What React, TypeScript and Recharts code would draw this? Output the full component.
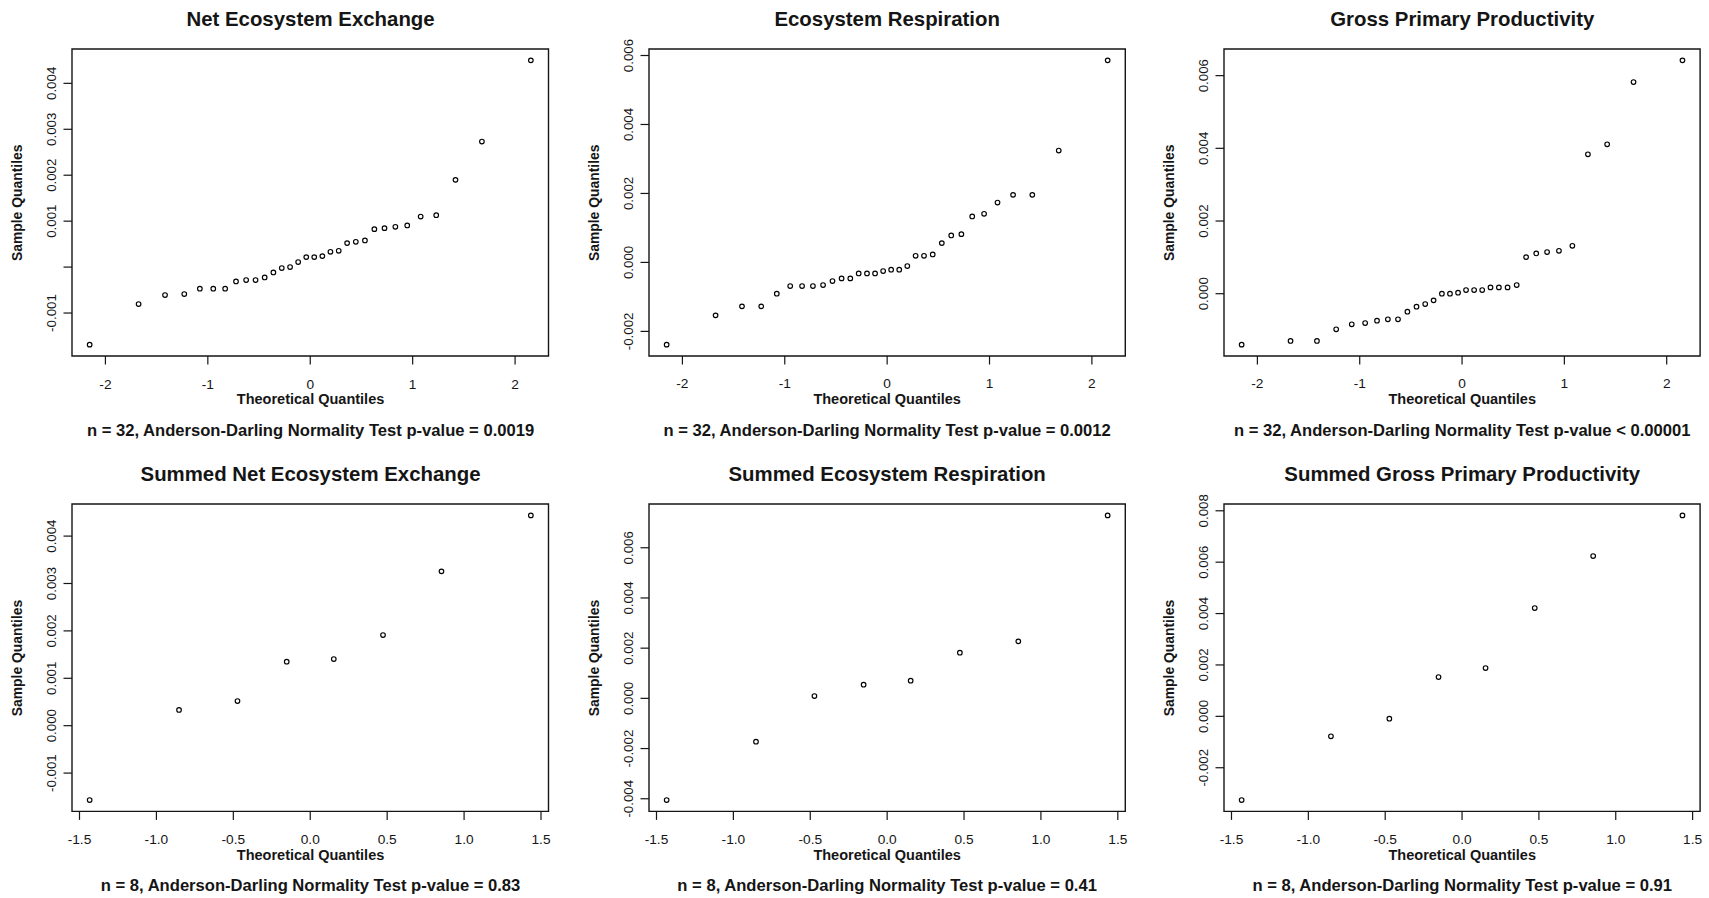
import React from 'react';
import { ScatterChart, Scatter, XAxis, YAxis, ReferenceArea } from 'recharts';

// ---------- data ----------
const theoretical32 = [
  -2.154, -1.676, -1.418, -1.23, -1.078, -0.947, -0.831, -0.725, -0.626, -0.534, -0.445, -0.36, -0.278, -0.197, -0.118, -0.039,
  0.039, 0.118, 0.197, 0.278, 0.36, 0.445, 0.534, 0.626, 0.725, 0.831, 0.947, 1.078, 1.23, 1.418, 1.676, 2.154,
];
const theoretical8 = [-1.434, -0.853, -0.473, -0.153, 0.153, 0.473, 0.853, 1.434];

const neeSample = [
  -0.001688, -0.000804, -0.000609, -0.000587, -0.000471, -0.000471, -0.000471, -0.000312, -0.000283, -0.000283, -0.000225,
  -0.000116, -0.000022, 0.0, 0.000109, 0.000217, 0.000217, 0.000239, 0.000333, 0.000355, 0.000522, 0.000551, 0.00058,
  0.000826, 0.000848, 0.000877, 0.000906, 0.001101, 0.00113, 0.001899, 0.002732, 0.0045,
];
const erSample = [
  -0.002384, -0.001535, -0.001274, -0.001274, -0.000907, -0.000685, -0.000685, -0.000685, -0.000656, -0.000541, -0.000463,
  -0.000463, -0.000319, -0.000319, -0.000319, -0.000251, -0.000212, -0.000212, -0.000106, 0.000193, 0.000193, 0.000232,
  0.00056, 0.000782, 0.00082, 0.001332, 0.001409, 0.001737, 0.001959, 0.001959, 0.003243, 0.005859,
];
const gppSample = [
  -0.001401, -0.0013, -0.0013, -0.00098, -0.000842, -0.000806, -0.000742, -0.000705, -0.000705, -0.000495, -0.000357,
  -0.000284, -0.000183, 0.0, 0.0, 0.000027, 0.000101, 0.000101, 0.000101, 0.000174, 0.000174, 0.000174, 0.000238,
  0.001007, 0.001108, 0.001145, 0.001181, 0.001319, 0.003837, 0.004112, 0.005824, 0.00642,
];
const sumNeeSample = [-0.001568, 0.000331, 0.00052, 0.00135, 0.001406, 0.001913, 0.003256, 0.004437];
const sumErSample = [-0.00405, -0.001726, 0.000093, 0.000544, 0.000704, 0.001819, 0.002271, 0.00729];
const sumGppSample = [-0.003256, -0.000778, -0.000091, 0.00153, 0.001881, 0.004215, 0.006239, 0.007821];

const titles = [
  'Net Ecosystem Exchange',
  'Ecosystem Respiration',
  'Gross Primary Productivity',
  'Summed Net Ecosystem Exchange',
  'Summed Ecosystem Respiration',
  'Summed Gross Primary Productivity',
];
const subtitles = [
  'n = 32, Anderson-Darling Normality Test p-value = 0.0019',
  'n = 32, Anderson-Darling Normality Test p-value = 0.0012',
  'n = 32, Anderson-Darling Normality Test p-value < 0.00001',
  'n = 8, Anderson-Darling Normality Test p-value = 0.83',
  'n = 8, Anderson-Darling Normality Test p-value = 0.41',
  'n = 8, Anderson-Darling Normality Test p-value = 0.91',
];

const xTicksTop = [-2, -1, 0, 1, 2];
const xTickLabelsTop = ['-2', '-1', '0', '1', '2'];
const xTicksBottom = [-1.5, -1, -0.5, 0, 0.5, 1, 1.5];
const xTickLabelsBottom = ['-1.5', '-1.0', '-0.5', '0.0', '0.5', '1.0', '1.5'];

const neeYTicks = [-0.001, 0, 0.001, 0.002, 0.003, 0.004];
const neeYTickLabels = ['-0.001', '', '0.001', '0.002', '0.003', '0.004'];
const erYTicks = [-0.002, 0, 0.002, 0.004, 0.006];
const erYTickLabels = ['-0.002', '0.000', '0.002', '0.004', '0.006'];
const gppYTicks = [0, 0.002, 0.004, 0.006];
const gppYTickLabels = ['0.000', '0.002', '0.004', '0.006'];
const sumNeeYTicks = [-0.001, 0, 0.001, 0.002, 0.003, 0.004];
const sumNeeYTickLabels = ['-0.001', '0.000', '0.001', '0.002', '0.003', '0.004'];
const sumErYTicks = [-0.004, -0.002, 0, 0.002, 0.004, 0.006];
const sumErYTickLabels = ['-0.004', '-0.002', '0.000', '0.002', '0.004', '0.006'];
const sumGppYTicks = [-0.002, 0, 0.002, 0.004, 0.006, 0.008];
const sumGppYTickLabels = ['-0.002', '0.000', '0.002', '0.004', '0.006', '0.008'];

const xLabel = 'Theoretical Quantiles';
const yLabel = 'Sample Quantiles';

// ---------- layout ----------
const FONT = '"Liberation Sans", Arial, Helvetica, sans-serif';
const INK = '#151515';
const colBounds: [number, number][] = [
  [72.3, 548.8],
  [649, 1125.3],
  [1224.2, 1700.3],
];
const rowBounds: [number, number][] = [
  [49.3, 356.3],
  [504.3, 811.7],
];
const TICK = 8.5;

function padDomain(vals: number[]): [number, number] {
  const mn = Math.min(...vals);
  const mx = Math.max(...vals);
  const r = mx - mn;
  return [mn - 0.04 * r, mx + 0.04 * r];
}

function findLabel(value: number, ticks: number[], labels: string[]) {
  let best = 0;
  let bd = Infinity;
  ticks.forEach((t, i) => {
    const d = Math.abs(t - value);
    if (d < bd) {
      bd = d;
      best = i;
    }
  });
  return labels[best];
}

const Ring = (props: any) => {
  const { cx, cy } = props;
  if (cx == null || cy == null) return null;
  return <circle cx={cx} cy={cy} r={2.3} fill="none" stroke="#000" strokeWidth={1.15} />;
};

type PanelDef = {
  col: number;
  row: number;
  xs: number[];
  ys: number[];
  xTicks: number[];
  xLabels: string[];
  yTicks: number[];
  yLabels: string[];
};

const panels: PanelDef[] = [
  { col: 0, row: 0, xs: theoretical32, ys: neeSample, xTicks: xTicksTop, xLabels: xTickLabelsTop, yTicks: neeYTicks, yLabels: neeYTickLabels },
  { col: 1, row: 0, xs: theoretical32, ys: erSample, xTicks: xTicksTop, xLabels: xTickLabelsTop, yTicks: erYTicks, yLabels: erYTickLabels },
  { col: 2, row: 0, xs: theoretical32, ys: gppSample, xTicks: xTicksTop, xLabels: xTickLabelsTop, yTicks: gppYTicks, yLabels: gppYTickLabels },
  { col: 0, row: 1, xs: theoretical8, ys: sumNeeSample, xTicks: xTicksBottom, xLabels: xTickLabelsBottom, yTicks: sumNeeYTicks, yLabels: sumNeeYTickLabels },
  { col: 1, row: 1, xs: theoretical8, ys: sumErSample, xTicks: xTicksBottom, xLabels: xTickLabelsBottom, yTicks: sumErYTicks, yLabels: sumErYTickLabels },
  { col: 2, row: 1, xs: theoretical8, ys: sumGppSample, xTicks: xTicksBottom, xLabels: xTickLabelsBottom, yTicks: sumGppYTicks, yLabels: sumGppYTickLabels },
];

const ML = 60;
const MT = 12;
const MR = 8;
const MB = 40;

function Panel({ p }: { p: PanelDef }) {
  const [L, R] = colBounds[p.col];
  const [T, B] = rowBounds[p.row];
  const pw = R - L;
  const ph = B - T;
  const w = pw + ML + MR;
  const h = ph + MT + MB;
  const data = p.xs.map((x, i) => ({ x, y: p.ys[i] }));
  const xd = padDomain(p.xs);
  const yd = padDomain(p.ys);

  const XTick = (props: any) => {
    const { x, y, payload } = props;
    // y = plot bottom + tick length
    return (
      <text x={x} y={y + 32.5 - TICK} textAnchor="middle" fontSize={13.7} fontFamily={FONT} fill={INK}>
        {findLabel(payload.value, p.xTicks, p.xLabels)}
      </text>
    );
  };
  const YTick = (props: any) => {
    const { x, y, payload } = props;
    // x = plot left - tick length; baseline of rotated label sits 15.6px left of the box
    const bx = x - (15.6 - TICK);
    return (
      <text
        x={bx}
        y={y}
        transform={`rotate(-90, ${bx}, ${y})`}
        textAnchor="middle"
        fontSize={13.3}
        fontFamily={FONT}
        fill={INK}
      >
        {findLabel(payload.value, p.yTicks, p.yLabels)}
      </text>
    );
  };

  return (
    <div style={{ position: 'absolute', left: L - ML, top: T - MT, width: w, height: h }}>
      <ScatterChart width={w} height={h} margin={{ top: MT, right: MR, bottom: 0, left: 0 }}>
        <XAxis
          type="number"
          dataKey="x"
          domain={xd}
          ticks={p.xTicks}
          interval={0}
          tickSize={TICK}
          tickMargin={0}
          height={MB}
          axisLine={false}
          tickLine={{ stroke: INK, strokeWidth: 1.2 }}
          tick={XTick}
          allowDataOverflow
        />
        <YAxis
          type="number"
          dataKey="y"
          domain={yd}
          ticks={p.yTicks}
          interval={0}
          width={ML}
          tickSize={TICK}
          tickMargin={0}
          axisLine={false}
          tickLine={{ stroke: INK, strokeWidth: 1.2 }}
          tick={YTick}
          allowDataOverflow
        />
        <ReferenceArea
          x1={xd[0]}
          x2={xd[1]}
          y1={yd[0]}
          y2={yd[1]}
          fill="none"
          fillOpacity={0}
          stroke={INK}
          strokeWidth={1.4}
          ifOverflow="visible"
        />
        <Scatter data={data} isAnimationActive={false} shape={Ring} />
      </ScatterChart>
    </div>
  );
}

function Texts() {
  return (
    <svg
      width={1709}
      height={898}
      style={{ position: 'absolute', left: 0, top: 0, pointerEvents: 'none' }}
    >
      {panels.map((p, i) => {
        const [L, R] = colBounds[p.col];
        const [T, B] = rowBounds[p.row];
        const cx = (L + R) / 2;
        const cy = (T + B) / 2;
        const yx = L - 50;
        return (
          <g key={i} fontFamily={FONT} fill={INK} fontWeight="bold">
            <text x={cx} y={T - 23.3} textAnchor="middle" fontSize={20.4}>
              {titles[i]}
            </text>
            <text x={cx} y={B + 48} textAnchor="middle" fontSize={14.5}>
              {xLabel}
            </text>
            <text x={yx} y={cy} textAnchor="middle" fontSize={13.9} transform={`rotate(-90, ${yx}, ${cy})`}>
              {yLabel}
            </text>
            <text x={cx} y={B + 79.5} textAnchor="middle" fontSize={16.6}>
              {subtitles[i]}
            </text>
          </g>
        );
      })}
    </svg>
  );
}

export default function App() {
  return (
    <div
      style={{
        position: 'absolute',
        left: 0,
        top: 0,
        width: 1709,
        height: 898,
        background: '#fff',
        overflow: 'hidden',
        fontFamily: FONT,
      }}
    >
      {panels.map((p, i) => (
        <Panel key={i} p={p} />
      ))}
      <Texts />
    </div>
  );
}
